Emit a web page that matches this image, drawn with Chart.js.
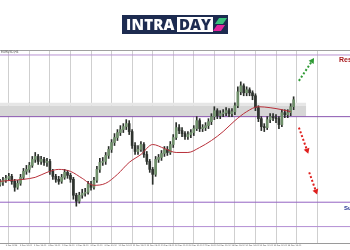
<!DOCTYPE html>
<html>
<head>
<meta charset="utf-8">
<script src="https://cdn.jsdelivr.net/npm/chart.js@4.4.1/dist/chart.umd.min.js"></script>
<style>
  body { margin: 0; width: 350px; height: 250px; overflow: hidden; background: #fff; position: relative; }
  #chart { position: absolute; left: 0; top: 0; }
  .logo { position: absolute; left: 122px; top: 15px; width: 106px; height: 19px; background: #1d2b50; }
  .logo .intra { position: absolute; left: 4px; top: 0; color: #fff; font: 800 15px/19px "Open Sans", sans-serif; letter-spacing: 0.2px; }
  .logo .day { position: absolute; left: 55px; top: 2px; width: 36px; height: 15px; background: #fff; color: #1d2b50; font: 800 15px/15px "Open Sans", sans-serif; text-align: center; }
  .logo .g, .logo .p { position: absolute; width: 8px; height: 6px; transform: skewX(-35deg); }
  .logo .g { left: 95px; top: 3px; background: #38c27b; }
  .logo .p { left: 93px; top: 10px; background: #e2259c; }
  .note { position: absolute; white-space: nowrap; font-family: "Liberation Sans", sans-serif; }
  .sym { left: 1px; top: 50px; font-size: 3px; color: #555; }
  .res { left: 339px; top: 56px; font-size: 7px; font-weight: bold; color: #a8191c; }
  .sup { left: 344px; top: 205px; font-size: 6px; font-weight: bold; color: #1f2f8f; }
</style>
</head>
<body>
<canvas id="chart" width="350" height="250"></canvas>
<div class="logo"><span class="intra">INTRA</span><span class="day">DAY</span><span class="g"></span><span class="p"></span></div>
<div class="note sym">EURUSD,H4</div>
<div class="note res">Resistance</div>
<div class="note sup">Support</div>
<script>
// candles (H4), index 0..100
const opens = [1.0980,1.0984,1.0988,1.0992,1.0996,1.0986,1.0974,1.0982,1.0994,1.1006,
  1.1010,1.1018,1.1030,1.1036,1.1026,1.1030,1.1024,1.1026,1.1006,1.0996,
  1.0990,1.0986,1.0994,1.1004,1.0998,1.0990,1.0958,1.0946,1.0958,1.0962,
  1.0964,1.0980,1.0974,1.0988,1.1010,1.1024,1.1026,1.1038,1.1050,1.1064,
  1.1074,1.1084,1.1090,1.1096,1.1102,1.1086,1.1058,1.1046,1.1050,1.1060,
  1.1040,1.1026,1.1010,1.1000,1.1030,1.1034,1.1042,1.1050,1.1044,1.1060,
  1.1074,1.1094,1.1088,1.1082,1.1076,1.1080,1.1084,1.1092,1.1108,1.1092,
  1.1094,1.1098,1.1106,1.1116,1.1128,1.1118,1.1122,1.1124,1.1128,1.1122,
  1.1126,1.1138,1.1166,1.1178,1.1164,1.1170,1.1164,1.1158,1.1134,1.1112,
  1.1096,1.1094,1.1110,1.1116,1.1114,1.1112,1.1100,1.1124,1.1120,1.1124,
  1.1136];
const closes = [1.0984,1.0988,1.0992,1.0996,1.0986,1.0974,1.0982,1.0994,1.1006,1.1010,
  1.1018,1.1030,1.1036,1.1026,1.1030,1.1024,1.1026,1.1006,1.0996,1.0990,
  1.0986,1.0994,1.1004,1.0998,1.0990,1.0958,1.0946,1.0958,1.0962,1.0964,
  1.0980,1.0974,1.0988,1.1010,1.1024,1.1026,1.1038,1.1050,1.1064,1.1074,
  1.1084,1.1090,1.1096,1.1102,1.1086,1.1058,1.1046,1.1050,1.1060,1.1040,
  1.1026,1.1010,1.1000,1.1030,1.1034,1.1042,1.1050,1.1044,1.1060,1.1074,
  1.1094,1.1088,1.1082,1.1076,1.1080,1.1084,1.1092,1.1108,1.1092,1.1094,
  1.1098,1.1106,1.1116,1.1128,1.1118,1.1122,1.1124,1.1128,1.1122,1.1126,
  1.1138,1.1166,1.1178,1.1164,1.1170,1.1164,1.1158,1.1134,1.1112,1.1096,
  1.1094,1.1110,1.1116,1.1114,1.1112,1.1100,1.1124,1.1120,1.1124,1.1136,
  1.1150];
const highs = [1.0990,1.0994,1.0998,1.1002,1.1000,1.0990,1.0988,1.1000,1.1012,1.1018,
  1.1024,1.1036,1.1044,1.1040,1.1036,1.1034,1.1032,1.1030,1.1010,1.1000,
  1.0996,1.1000,1.1010,1.1008,1.1002,1.0994,1.0962,1.0964,1.0970,1.0972,
  1.0986,1.0986,1.0994,1.1016,1.1032,1.1034,1.1044,1.1056,1.1070,1.1082,
  1.1090,1.1098,1.1102,1.1110,1.1108,1.1090,1.1064,1.1058,1.1066,1.1064,
  1.1046,1.1030,1.1014,1.1036,1.1040,1.1048,1.1056,1.1056,1.1066,1.1080,
  1.1104,1.1100,1.1094,1.1086,1.1086,1.1090,1.1098,1.1116,1.1112,1.1100,
  1.1104,1.1112,1.1122,1.1136,1.1132,1.1128,1.1130,1.1134,1.1132,1.1132,
  1.1144,1.1176,1.1186,1.1182,1.1176,1.1174,1.1168,1.1162,1.1138,1.1116,
  1.1102,1.1116,1.1122,1.1122,1.1120,1.1116,1.1130,1.1130,1.1130,1.1142,
  1.1156];
const lows = [1.0976,1.0978,1.0984,1.0988,1.0980,1.0966,1.0970,1.0978,1.0990,1.1000,
  1.1004,1.1014,1.1024,1.1020,1.1020,1.1018,1.1016,1.1000,1.0990,1.0984,
  1.0980,1.0982,1.0990,1.0992,1.0984,1.0950,1.0936,1.0942,1.0952,1.0956,
  1.0960,1.0968,1.0970,1.0984,1.1004,1.1018,1.1020,1.1032,1.1044,1.1058,
  1.1068,1.1078,1.1084,1.1090,1.1080,1.1052,1.1040,1.1040,1.1046,1.1034,
  1.1020,1.1004,1.0980,1.0996,1.1024,1.1028,1.1036,1.1038,1.1040,1.1054,
  1.1070,1.1082,1.1076,1.1070,1.1070,1.1074,1.1078,1.1088,1.1086,1.1086,
  1.1088,1.1092,1.1100,1.1110,1.1112,1.1112,1.1116,1.1118,1.1116,1.1116,
  1.1120,1.1134,1.1160,1.1158,1.1158,1.1158,1.1150,1.1128,1.1106,1.1088,
  1.1086,1.1090,1.1104,1.1108,1.1104,1.1092,1.1096,1.1114,1.1114,1.1118,
  1.1130];

// moving average (red)
const maIdx = [0,4,8,12,16,20,24,28,32,36,40,44,48,52,56,60,64,68,72,76,80,84,88,92,96,99];
const maVals = [1.0986,1.0988,1.0990,1.0994,1.1004,1.1010,1.1006,1.0992,1.0978,1.0982,
  1.1000,1.1024,1.1040,1.1060,1.1052,1.1044,1.1044,1.1054,1.1068,1.1086,
  1.1108,1.1126,1.1136,1.1134,1.1130,1.1126];

// levels and zone
const resistance = 1.1240;
const zoneTop = 1.1144, zoneMid = 1.1138, zoneBottom = 1.1116;
const support1 = 1.0944, support2 = 1.0895;
const zoneEnd = 104.3;

// projected moves [index, price]
const arrowUp = [[101.8, 1.1188], [106.3, 1.1228]];
const arrowDown1 = [[101.8, 1.1094], [104.6, 1.1048]];
const arrowDown2 = [[105.3, 1.1004], [107.6, 1.0966]];

// axis
const gridIdx = [6.5,13.5,20.5,27.5,34.5,41.5,48.5,55.5,62.5,69.5,76.5,83.5,90.5,97.5,104.5];
const labelIdx = [2,6.8,11.6,16.4,21.2,26,30.8,35.6,40.4,45.2,50,54.8,59.6,64.4,69.2,74,78.8,83.6,88.4,93.2,98];
const dateLabels = ['2 Dec 2019','2 Dec 20:00','3 Dec 16:00','4 Dec 12:00','5 Dec 08:00','6 Dec 04:00',
  '9 Dec 00:00','9 Dec 20:00','10 Dec 16:00','11 Dec 12:00','12 Dec 08:00','13 Dec 04:00',
  '16 Dec 00:00','16 Dec 20:00','17 Dec 16:00','18 Dec 12:00','19 Dec 08:00','20 Dec 04:00',
  '23 Dec 00:00','23 Dec 20:00','24 Dec 16:00'];

const xMax = 119.2;

function hline(price, color, from, to, order) {
  return {
    type: 'line',
    data: [{x: from, y: price}, {x: to, y: price}],
    borderColor: color,
    borderWidth: 1,
    pointRadius: 0,
    order: order
  };
}

function arrow(pts, color, rot) {
  return {
    type: 'line',
    data: pts.map(p => ({x: p[0], y: p[1]})),
    borderColor: color,
    backgroundColor: color,
    borderWidth: 2,
    borderDash: [2, 2],
    pointStyle: 'triangle',
    pointRadius: [0, 3.5],
    pointRotation: [0, rot],
    pointBorderWidth: 0,
    order: 0
  };
}

const upColor = '#6f8f6a';
const downColor = '#2e332e';

new Chart(document.getElementById('chart'), {
  type: 'bar',
  data: {
    datasets: [
      {
        type: 'line',
        data: [{x: 0, y: zoneTop}, {x: zoneEnd, y: zoneTop}],
        borderWidth: 0, pointRadius: 0,
        fill: {value: zoneMid}, backgroundColor: '#e6e6e6', order: 20
      },
      {
        type: 'line',
        data: [{x: 0, y: zoneMid}, {x: zoneEnd, y: zoneMid}],
        borderWidth: 0, pointRadius: 0,
        fill: {value: zoneBottom}, backgroundColor: '#d6d6d6', order: 19
      },
      hline(resistance, '#b993d3', 0, xMax, 10),
      hline(zoneBottom, '#8a55b0', 0, xMax, 10),
      hline(support1, '#9462c2', 0, xMax, 10),
      hline(support2, '#b48fd4', 0, xMax, 10),
      {
        type: 'bar',
        data: highs.map((h, i) => ({x: i, y: [lows[i], h]})),
        backgroundColor: '#2a2f2a',
        barThickness: 1,
        grouped: false,
        order: 4
      },
      {
        type: 'bar',
        data: closes.map((c, i) => ({x: i, y: [opens[i], c]})),
        backgroundColor: ctx => closes[ctx.dataIndex] >= opens[ctx.dataIndex] ? upColor : downColor,
        barThickness: 2,
        grouped: false,
        order: 3
      },
      {
        type: 'line',
        data: maIdx.map((v, i) => ({x: v, y: maVals[i]})),
        borderColor: '#b8303a',
        borderWidth: 1,
        pointRadius: 0,
        cubicInterpolationMode: 'monotone',
        order: 1
      },
      arrow(arrowUp, '#2f9a35', 33),
      arrow(arrowDown1, '#e0201e', 161),
      arrow(arrowDown2, '#e0201e', 160)
    ]
  },
  options: {
    responsive: false,
    animation: false,
    layout: { padding: { top: 50, bottom: 2.6, left: 0, right: 0 }, autoPadding: false },
    plugins: { legend: { display: false }, tooltip: { enabled: false } },
    scales: {
      x: {
        type: 'linear', position: 'bottom', min: 0, max: xMax, offset: false,
        grid: { color: '#cfcfcf', lineWidth: 1, drawTicks: false },
        border: { color: '#9a9a9a' },
        ticks: { display: false },
        afterBuildTicks: s => { s.ticks = gridIdx.map(v => ({value: v})); }
      },
      x2: {
        type: 'linear', position: 'bottom', min: 0, max: xMax, offset: false,
        grid: { display: false, drawTicks: false },
        border: { display: false },
        ticks: {
          font: { size: 2, family: 'DejaVu Sans' }, color: '#555', align: 'start',
          padding: 1, maxRotation: 0, autoSkip: false,
          callback: (v, i) => dateLabels[i]
        },
        afterBuildTicks: s => { s.ticks = labelIdx.map(v => ({value: v})); }
      },
      xTop: {
        type: 'linear', position: 'top', min: 0, max: xMax,
        grid: { display: false, drawTicks: false },
        border: { color: '#a0a0a0' },
        ticks: { display: false }
      },
      y: { display: false, min: 1.0862, max: 1.1250 }
    }
  }
});
</script>
</body>
</html>
